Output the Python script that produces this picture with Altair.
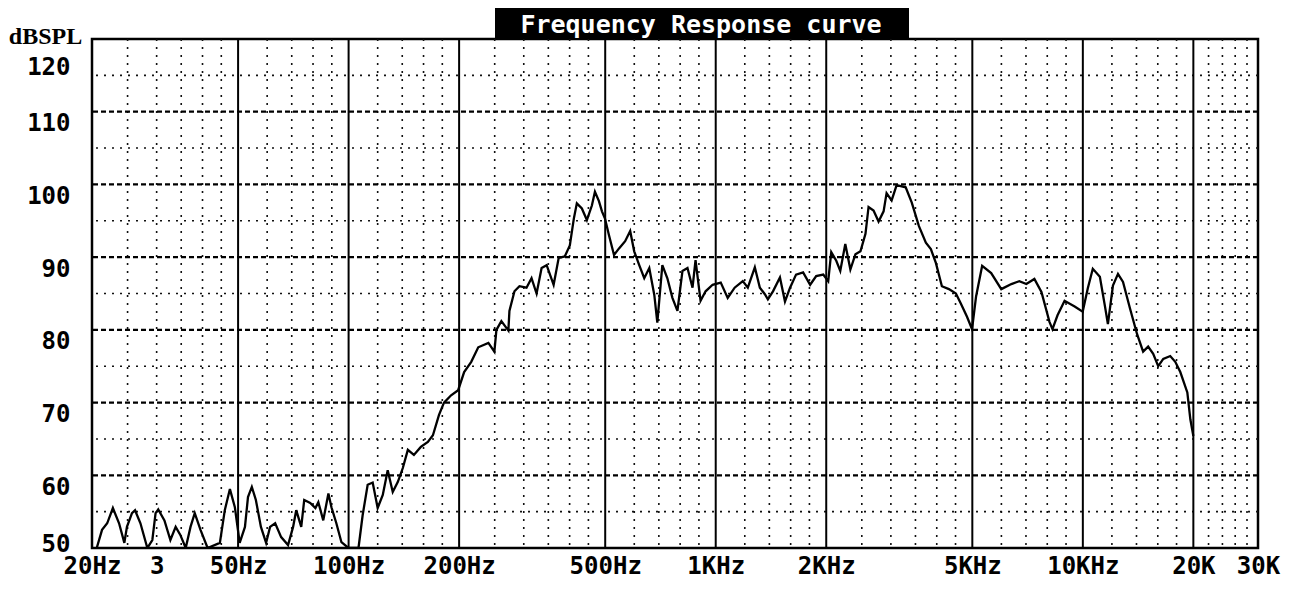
import altair as alt
import pandas as pd

TITLE = "Frequency Response curve"
Y_TITLE = "dBSPL"

FREQ_HZ = [
    20.6, 21.3, 22.0, 22.8, 23.7, 24.5, 24.9, 25.7, 26.2, 27.1, 28.3, 29.2, 29.8, 30.3,
    31.5, 32.7, 33.8, 34.8, 36.0, 37.1, 38.1, 39.5, 41.3, 44.6, 46.0, 47.5, 49.0, 50.5,
    52.2, 53.2, 54.5, 55.9, 57.7, 59.6, 61.1, 63.1, 65.5, 68.4, 70.6, 72.0, 74.3, 75.7,
    78.6, 81.2, 82.7, 85.3, 88.1, 89.8, 92.6, 95.6, 99.9, 101.2, 106.4, 109.2, 112.7,
    116.3, 120.0, 123.9, 127.8, 131.9, 136.2, 140.5, 145.0, 150.6, 157.3, 164.4, 169.7,
    176.3, 181.9, 190.2, 198.8, 206.4, 215.8, 225.5, 240.3, 249.5, 252.7, 260.7, 272.4,
    274.2, 283.0, 292.0, 305.2, 315.0, 325.1, 335.5, 346.3, 361.8, 373.5, 388.0, 400.5,
    410.7, 418.5, 431.9, 445.7, 459.9, 468.8, 480.7, 489.9, 499.3, 512.0, 528.4, 545.3,
    566.6, 584.8, 599.7, 618.9, 638.7, 659.2, 680.3, 693.3, 715.5, 738.4, 762.1, 786.5,
    811.7, 837.7, 864.6, 881.1, 909.3, 938.5, 980.7, 1032, 1078, 1126, 1185, 1223, 1278,
    1319, 1361, 1387, 1432, 1496, 1544, 1594, 1655, 1730, 1808, 1878, 1963, 2025, 2064,
    2130, 2184, 2254, 2327, 2402, 2479, 2558, 2608, 2691, 2777, 2866, 2920, 3014, 3110,
    3292, 3420, 3575, 3736, 3855, 3978, 4131, 4317, 4511, 4655, 4836, 4991, 5119, 5318,
    5628, 5996, 6387, 6714, 7017, 7379, 7713, 8112, 8266, 8532, 8918, 9500, 9991, 10313,
    10644, 11127, 11483, 11702, 12078, 12466, 12866, 13448, 14054, 14595, 15063, 15546,
    16045, 16560, 17300, 17855, 18427, 19258, 19626, 20000,
]
SPL_DB = [
    50.0, 52.5, 53.4, 55.5, 53.4, 50.7, 52.9, 54.8, 55.2, 53.4, 50.0, 51.1, 54.8, 55.3,
    53.8, 51.1, 52.9, 51.8, 50.0, 52.9, 54.8, 52.5, 50.0, 50.7, 55.2, 58.1, 55.6, 50.7,
    52.9, 57.0, 58.4, 56.6, 52.9, 50.7, 52.9, 53.4, 51.5, 50.4, 52.9, 55.2, 52.9, 56.6,
    56.2, 55.5, 56.3, 53.8, 57.5, 55.6, 53.4, 50.8, 50.0, 50.0, 50.0, 54.5, 58.7,
    59.0, 55.5, 57.3, 60.7, 57.7, 59.1, 61.0, 63.5, 62.8, 63.9, 64.6, 65.5,
    68.3, 70.0, 71.0, 71.7, 74.2, 75.6, 77.6, 78.2, 77.0, 80.0, 81.2, 79.9,
    82.6, 85.3, 86.0, 85.8, 87.1, 85.0, 88.5, 88.9, 86.2, 89.9, 90.1, 91.6,
    95.3, 97.4, 96.7, 95.1, 97.1, 99.0, 97.7, 96.3, 95.3, 93.0, 90.3, 91.2,
    92.2, 93.6, 90.8, 88.9, 87.1, 88.5, 84.8, 81.0, 88.9, 87.1, 84.4, 82.6,
    88.1, 88.5, 85.8, 89.6, 84.0, 85.3, 86.2, 86.5, 84.4, 85.8, 86.7, 85.8, 88.6,
    85.8, 84.9, 84.2, 85.3, 87.2, 83.9, 85.8, 87.6, 87.9, 86.2, 87.4, 87.6, 86.7, 90.7,
    89.5, 88.1, 91.8, 88.3, 90.4, 90.8, 93.2, 96.9, 96.4, 94.9, 96.3, 98.8, 97.8, 99.9,
    99.6, 97.5, 94.3, 92.0, 91.1, 89.2, 86.0, 85.6, 85.0, 83.6, 81.8, 80.1, 84.6, 88.8,
    87.8, 85.6, 86.3, 86.7, 86.3, 87.0, 85.2, 81.1, 80.1, 82.0, 84.0, 83.2, 82.5, 85.7,
    88.4, 87.3, 83.3, 80.8, 86.1, 87.7, 86.6, 82.9, 79.4, 77.0, 77.7, 76.7,
    75.0, 76.0, 76.4, 75.6, 74.2, 71.4, 67.7, 65.4,
]

X_TICKS = [20, 30, 50, 100, 200, 500, 1000, 2000, 5000, 10000, 20000, 30000]
X_TICK_LABELS = ["20Hz", "3", "50Hz", "100Hz", "200Hz", "500Hz", "1KHz", "2KHz",
                 "5KHz", "10KHz", "20K", "30K"]
Y_TICKS = [50, 60, 70, 80, 90, 100, 110, 120]

MAJOR_FREQ = [50, 100, 200, 500, 1000, 2000, 5000, 10000, 20000]
MINOR_FREQ = [25, 30, 35, 40, 45, 60, 70, 80, 90, 120, 140, 160, 180,
              250, 300, 350, 400, 450, 600, 700, 800, 900,
              1200, 1400, 1600, 1800, 2500, 3000, 3500, 4000, 4500,
              6000, 7000, 8000, 9000, 12000, 14000, 16000, 18000,
              22000, 24000, 26000, 28000]
MAJOR_DB = [60, 70, 80, 90, 100, 110]
MINOR_DB = [55, 65, 75, 85, 95, 105, 115]

curve = pd.DataFrame({"freq": FREQ_HZ, "spl": SPL_DB})
major_f = pd.DataFrame({"freq": MAJOR_FREQ})
minor_f = pd.DataFrame({"freq": MINOR_FREQ})
major_d = pd.DataFrame({"spl": MAJOR_DB})
minor_d = pd.DataFrame({"spl": MINOR_DB})
title_df = pd.DataFrame({"label": [TITLE]})

xscale = alt.Scale(type="log", domain=[20, 30000], nice=False)
yscale = alt.Scale(domain=[50, 120], nice=False, zero=False)

label_expr = "[" + ",".join(f"'{t}'" for t in X_TICK_LABELS) + "][indexof([" + \
    ",".join(str(v) for v in X_TICKS) + "], datum.value)]"

MONO = "DejaVu Sans Mono"

X_AXIS = alt.Axis(values=X_TICKS, labelExpr=label_expr, ticks=False, domain=False,
                  grid=False, title="", labelFont=MONO, labelFontSize=24,
                  labelFontWeight="bold", labelColor="black", labelPadding=6,
                  labelFlush=False, labelOverlap=False)
Y_AXIS = alt.Axis(values=Y_TICKS, ticks=False, domain=False, grid=False,
                  labelFont=MONO, labelFontSize=24, labelFontWeight="bold",
                  labelColor="black", labelPadding=22, labelFlush=True,
                  labelFlushOffset=-4, labelOffset=12, labelOverlap=False,
                  title=Y_TITLE, titleAngle=0, titleX=-47, titleY=4,
                  titleAlign="center", titleBaseline="alphabetic",
                  titleFont="Liberation Serif", titleFontSize=24,
                  titleFontWeight="bold", titleColor="black")


def xenc():
    return alt.X("freq:Q", scale=xscale, axis=X_AXIS)


def yenc():
    return alt.Y("spl:Q", scale=yscale, axis=Y_AXIS)


minor_v = alt.Chart(minor_f).mark_rule(color="#111", strokeWidth=1.6, strokeDash=[2, 6]).encode(
    x=xenc())
minor_h = alt.Chart(minor_d).mark_rule(color="#111", strokeWidth=1.6, strokeDash=[2, 6]).encode(
    y=yenc())
major_v = alt.Chart(major_f).mark_rule(color="black", strokeWidth=2).encode(x=xenc())
major_h = alt.Chart(major_d).mark_rule(color="black", strokeWidth=2.2, strokeDash=[5, 3]).encode(
    y=yenc())

line = alt.Chart(curve).mark_line(color="black", strokeWidth=2.3, clip=True).encode(
    x=xenc(), y=yenc())

title_box = alt.Chart(title_df).mark_rect(color="black").encode(
    x=alt.value(403), x2=alt.value(817), y=alt.value(-31), y2=alt.value(-1))
title_text = alt.Chart(title_df).mark_text(
    color="white", font=MONO, fontSize=25, fontWeight="bold", align="center", baseline="middle"
).encode(x=alt.value(609), y=alt.value(-14), text="label:N")

chart = alt.layer(minor_v, minor_h, major_v, major_h, line, title_box, title_text).properties(
    width=1166, height=509,
    autosize=alt.AutoSizeParams(type="none"),
    padding={"left": 84, "top": 31, "right": 28, "bottom": 32},
    background="white",
).configure_view(stroke="black", strokeWidth=2.5)

chart.save("out.html", embed_options={"renderer": "svg", "actions": False})
